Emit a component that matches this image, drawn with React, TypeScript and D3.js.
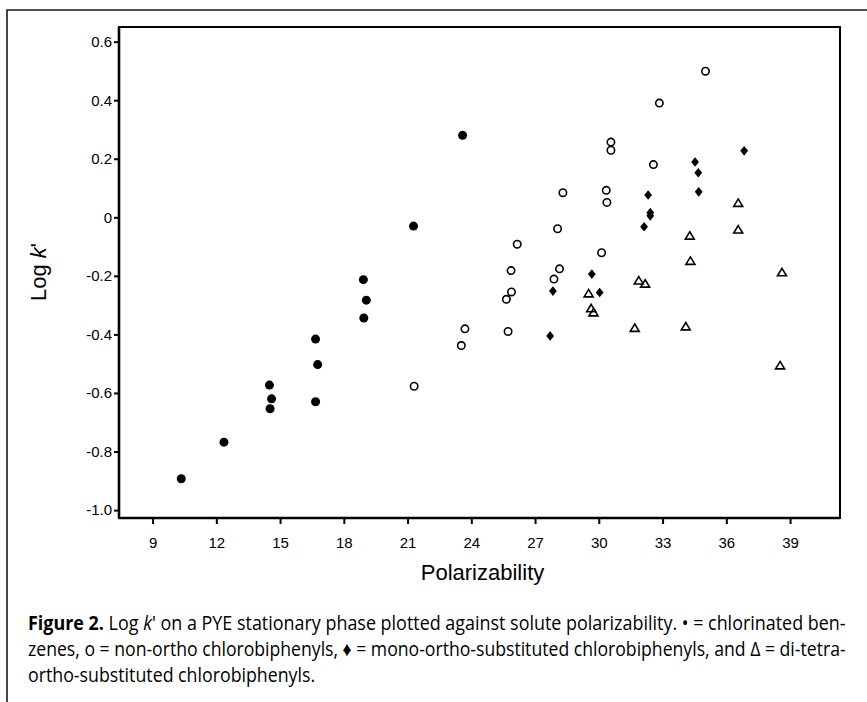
import React, { useEffect, useRef } from 'react';
import * as d3 from 'd3';

// chlorinated benzenes (filled circles)
const benzenesX = [10.35, 12.36, 14.5, 14.6, 14.53, 16.67, 16.77, 16.67, 18.92, 19.06, 18.94, 21.28, 23.59];
const benzenesY = [-0.893, -0.768, -0.573, -0.62, -0.654, -0.416, -0.503, -0.63, -0.213, -0.283, -0.344, -0.03, 0.28];

// non-ortho chlorobiphenyls (open circles)
const nonOrthoX = [21.31, 23.53, 23.7, 25.65, 25.73, 25.87, 25.89, 26.16, 27.89, 28.06, 28.15, 28.31, 30.13, 30.35, 30.38, 30.57, 30.57, 32.57, 32.85, 35.02];
const nonOrthoY = [-0.577, -0.438, -0.381, -0.28, -0.39, -0.182, -0.255, -0.092, -0.211, -0.039, -0.176, 0.084, -0.121, 0.092, 0.051, 0.257, 0.229, 0.18, 0.39, 0.499];

// mono-ortho-substituted chlorobiphenyls (filled diamonds)
const monoOrthoX = [27.71, 27.84, 29.67, 30.04, 32.13, 32.32, 32.42, 32.42, 34.53, 34.68, 34.7, 36.84];
const monoOrthoY = [-0.405, -0.252, -0.194, -0.257, -0.032, 0.076, 0.016, 0.005, 0.189, 0.152, 0.087, 0.227];

// di-tetra-ortho-substituted chlorobiphenyls (open triangles)
const diTetraX = [29.52, 29.64, 29.75, 31.69, 31.88, 32.18, 34.09, 34.28, 34.31, 36.56, 36.56, 38.53, 38.62];
const diTetraY = [-0.261, -0.312, -0.326, -0.379, -0.217, -0.228, -0.374, -0.064, -0.15, 0.048, -0.043, -0.507, -0.189];

const xTicks = [9, 12, 15, 18, 21, 24, 27, 30, 33, 36, 39];
const yTicks = [-1.0, -0.8, -0.6, -0.4, -0.2, 0, 0.2, 0.4, 0.6];
const yTickLabels = ['-1.0', '-0.8', '-0.6', '-0.4', '-0.2', '0', '0.2', '0.4', '0.6'];

const xTitle = 'Polarizability';
const captionLine2 = 'zenes, o = non-ortho chlorobiphenyls, \u2666 = mono-ortho-substituted chlorobiphenyls, and \u0394 = di-tetra-';
const captionLine3 = 'ortho-substituted chlorobiphenyls.';

const W = 867;
const H = 702;
const L = 119, T = 27, R = 840, B = 518;
const AX_FONT = '"Liberation Sans", Arial, Helvetica, sans-serif';
const CAP_FONT = '"Open Sans", "Noto Sans", sans-serif';
const CAP_X = 28;
const CAP_RIGHT = 846;

const zip = (xs: number[], ys: number[]) => xs.map((x, i) => ({ x, y: ys[i] }));

export default function App() {
  const xAxisRef = useRef<SVGGElement>(null);
  const yAxisRef = useRef<SVGGElement>(null);
  const capRef = useRef<SVGGElement>(null);

  const x = d3.scaleLinear().domain([7.42, 41.35]).range([L, R]);
  const y = d3.scaleLinear().domain([-1.027, 0.65]).range([B, T]);

  useEffect(() => {
    const gx = d3.select(xAxisRef.current!);
    gx.call(
      d3.axisBottom(x).tickValues(xTicks).tickSize(6).tickSizeOuter(0).tickPadding(13).tickFormat(d3.format('d')) as any
    );
    gx.select('.domain').remove();
    gx.attr('font-family', AX_FONT).attr('font-size', 15);
    gx.selectAll('line').attr('stroke', '#000').attr('stroke-width', 2);
    gx.selectAll('text').attr('fill', '#000');

    const gy = d3.select(yAxisRef.current!);
    gy.call(
      d3.axisLeft(y).tickValues(yTicks).tickSize(5).tickSizeOuter(0).tickPadding(2)
        .tickFormat((d: any, i: number) => yTickLabels[i]) as any
    );
    gy.select('.domain').remove();
    gy.attr('font-family', AX_FONT).attr('font-size', 15);
    gy.selectAll('line').attr('stroke', '#000').attr('stroke-width', 2);
    gy.selectAll('text').attr('fill', '#000');

    // condense caption lines horizontally so lines 1-2 fill the justified width
    const cap = d3.select(capRef.current!);
    const l1 = cap.select<SVGTextElement>('.cap1').node()!;
    const target = CAP_RIGHT - CAP_X;
    const sx1 = target / l1.getComputedTextLength();
    const l2 = cap.select<SVGTextElement>('.cap2').node()!;
    const sx2 = target / l2.getComputedTextLength();
    cap.select('.cap1').attr('transform', `translate(${CAP_X},630) scale(${sx1},1)`);
    cap.select('.cap2').attr('transform', `translate(${CAP_X},656) scale(${sx2},1)`);
    cap.select('.cap3').attr('transform', `translate(${CAP_X},682) scale(${(sx1 + sx2) / 2},1)`);
  }, []);

  const diamond = 'M0,-4.8L3.9,0L0,4.8L-3.9,0Z';
  const triangle = 'M0,-4.3L4.5,3.1L-4.5,3.1Z';

  return (
    <svg width={W} height={H} style={{ position: 'absolute', left: 0, top: 0, background: '#fff' }}>
      <rect x={0} y={0} width={W} height={H} fill="#fff" />
      {/* outer frame */}
      <path d={`M7,${H}L7,10L${W},10`} fill="none" stroke="#1a1a1a" strokeWidth={1.6} />

      {/* plot box */}
      <rect x={L} y={T} width={R - L} height={B - T} fill="none" stroke="#000" strokeWidth={2} />
      <line x1={L} x2={L} y1={T} y2={B} stroke="#000" strokeWidth={2.6} />
      <line x1={L} x2={R} y1={B} y2={B} stroke="#000" strokeWidth={2.6} />

      <g ref={xAxisRef} transform={`translate(0,${B})`} />
      <g ref={yAxisRef} transform={`translate(${L},0)`} />

      {/* axis titles */}
      <text x={(L + R) / 2 + 3} y={580} textAnchor="middle" fontFamily={AX_FONT} fontSize={22} fill="#000">
        {xTitle}
      </text>
      <text transform={`translate(46,${272}) rotate(-90)`} textAnchor="middle" fontFamily={AX_FONT} fontSize={22} fill="#000">
        Log <tspan fontStyle="italic">k</tspan>'
      </text>

      {/* series */}
      <g>
        {zip(nonOrthoX, nonOrthoY).map((d, i) => (
          <circle key={'o' + i} cx={x(d.x)} cy={y(d.y)} r={3.7} fill="none" stroke="#000" strokeWidth={1.6} />
        ))}
        {zip(diTetraX, diTetraY).map((d, i) => (
          <path key={'t' + i} d={triangle} transform={`translate(${x(d.x)},${y(d.y)})`} fill="none" stroke="#000" strokeWidth={1.6} />
        ))}
        {zip(monoOrthoX, monoOrthoY).map((d, i) => (
          <path key={'d' + i} d={diamond} transform={`translate(${x(d.x)},${y(d.y)})`} fill="#000" />
        ))}
        {zip(benzenesX, benzenesY).map((d, i) => (
          <circle key={'b' + i} cx={x(d.x)} cy={y(d.y)} r={4.5} fill="#000" />
        ))}
      </g>

      {/* caption */}
      <g ref={capRef} fontFamily={CAP_FONT} fontSize={20} fill="#000">
        <text className="cap1" transform={`translate(${CAP_X},630)`}>
          <tspan fontWeight="bold">Figure 2.</tspan> Log <tspan fontStyle="italic">k</tspan>' on a PYE stationary phase plotted against solute polarizability. {'\u2022'} = chlorinated ben-
        </text>
        <text className="cap2" transform={`translate(${CAP_X},656)`}>{captionLine2}</text>
        <text className="cap3" transform={`translate(${CAP_X},682)`}>{captionLine3}</text>
      </g>
    </svg>
  );
}
